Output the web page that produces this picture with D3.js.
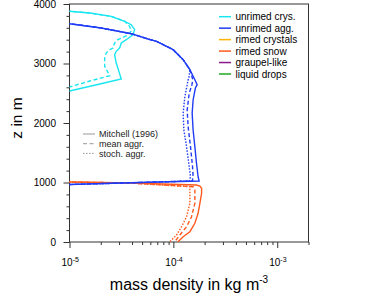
<!DOCTYPE html>
<html>
<head>
<meta charset="utf-8">
<script src="https://cdn.jsdelivr.net/npm/d3@7"></script>
<style>
    body { margin: 0; background: #fff; }
    text { font-family: "Liberation Sans", Arial, sans-serif; }
</style>
</head>
<body>
<svg id="chart" width="368" height="305"></svg>
<script>
// Profiles as [mass density in kg m^-3, z in m]
const crysMitchell = [
    [8.1e-6, 3891], [1.0e-5, 3877], [1.57e-5, 3849], [2.52e-5, 3793], [3.40e-5, 3709],
    [3.93e-5, 3652], [4.24e-5, 3568], [4.08e-5, 3484], [3.52e-5, 3400], [3.15e-5, 3345],
    [3.04e-5, 3261], [2.82e-5, 3205], [2.72e-5, 3148], [2.80e-5, 3025], [3.15e-5, 2740],
    [1.96e-5, 2655], [1.0e-5, 2538], [8.1e-6, 2504]
];
const crysMean = [
    [8.1e-6, 3891], [1.0e-5, 3877], [1.57e-5, 3849], [2.52e-5, 3793], [3.40e-5, 3709],
    [3.79e-5, 3625], [3.93e-5, 3546], [3.65e-5, 3479], [2.92e-5, 3400], [2.72e-5, 3345],
    [2.62e-5, 3261], [2.44e-5, 3232], [2.26e-5, 3176], [2.18e-5, 3092], [2.18e-5, 2953],
    [2.44e-5, 2795], [1.57e-5, 2706], [1.0e-5, 2605], [8.1e-6, 2571]
];
const aggTop = [
    [8.1e-6, 3698], [1.0e-5, 3669], [2.02e-5, 3597], [3.93e-5, 3501], [5.69e-5, 3412],
    [6.89e-5, 3373], [9.95e-5, 3232], [1.242e-4, 3064], [1.442e-4, 2896]
];
const aggBottom = [[3.82e-5, 995], [1.0e-5, 966], [8.1e-6, 965]];
const aggMitchell = aggTop.concat([
    [1.61e-4, 2728], [1.694e-4, 2644], [1.63e-4, 2588], [1.549e-4, 2387], [1.517e-4, 2163],
    [1.549e-4, 1882], [1.61e-4, 1602], [1.67e-4, 1323], [1.73e-4, 1097], [1.77e-4, 1025]
], aggBottom);
const aggMean = aggTop.concat([
    [1.54e-4, 2728], [1.506e-4, 2639], [1.42e-4, 2499], [1.358e-4, 2218], [1.387e-4, 1938],
    [1.462e-4, 1602], [1.53e-4, 1266], [1.549e-4, 1097], [1.523e-4, 1025]
], aggBottom);
const aggStoch = aggTop.concat([
    [1.41e-4, 2756], [1.387e-4, 2723], [1.29e-4, 2442], [1.242e-4, 2163], [1.262e-4, 1882],
    [1.34e-4, 1602], [1.42e-4, 1266], [1.462e-4, 1097], [1.425e-4, 1025]
], aggBottom);
const snowTop = [[8.1e-6, 1012], [1.0e-5, 1008], [3.82e-5, 992]];
const snowMitchell = snowTop.concat([
    [1.67e-4, 958], [1.80e-4, 941], [1.87e-4, 903], [1.87e-4, 819], [1.80e-4, 650],
    [1.73e-4, 482], [1.61e-4, 314], [1.442e-4, 173], [1.242e-4, 89], [1.11e-4, 5], [1.08e-4, -50]
]);
const snowMean = snowTop.concat([
    [1.549e-4, 929], [1.61e-4, 874], [1.61e-4, 650], [1.496e-4, 425], [1.34e-4, 257],
    [1.155e-4, 118], [1.033e-4, 5], [1.0e-4, -50]
]);
const snowStoch = snowTop.concat([
    [1.442e-4, 929], [1.442e-4, 650], [1.34e-4, 425], [1.20e-4, 257],
    [1.074e-4, 118], [9.4e-5, 17], [9.05e-5, -50]
]);

const speciesNames = ['unrimed crys.', 'unrimed agg.', 'rimed crystals', 'rimed snow', 'graupel-like', 'liquid drops'];
const schemeNames = ['Mitchell (1996)', 'mean aggr.', 'stoch. aggr.'];
const yTicks = [0, 1000, 2000, 3000, 4000];
const xDecades = [1e-5, 1e-4, 1e-3];

(function() {
    const colors = ['#19e6f0', '#1f3cf5', '#ffb400', '#ff5a1e', '#8c198c', '#1eaa1e'];
    const dashes = [null, '4,2.5', '1.5,1.5'];

    const svg = d3.select('#chart');
    const pLeft = 69.5, pRight = 308.5, pTop = 4, pBottom = 242;

    const x = d3.scaleLog().domain([1e-5, 2e-3]).range([pLeft, pRight]);
    const y = d3.scaleLinear().domain([0, 4000]).range([pBottom, pTop]);

    svg.append('clipPath').attr('id', 'plot-clip')
        .append('rect').attr('x', pLeft).attr('y', pTop)
        .attr('width', pRight - pLeft).attr('height', pBottom - pTop);

    // Minor ticks
    let xMinor = [];
    xDecades.forEach(d => { for (let k = 2; k <= 9; k++) if (d * k <= 2e-3) xMinor.push(d * k); });
    let yMinor = d3.range(0, 4001, 200).filter(v => v % 1000 !== 0);

    const xAxis = svg.append('g').attr('transform', `translate(0,${pBottom})`);
    xAxis.call(d3.axisBottom(x).tickValues(xMinor).tickSize(3).tickFormat(''));
    xAxis.append('g').call(d3.axisBottom(x).tickValues(xDecades).tickSize(6).tickFormat(''));
    xAxis.selectAll('.domain').remove();

    const yAxis = svg.append('g').attr('transform', `translate(${pLeft},0)`);
    yAxis.call(d3.axisLeft(y).tickValues(yMinor).tickSize(3).tickFormat(''));
    yAxis.append('g').call(d3.axisLeft(y).tickValues(yTicks).tickSize(6).tickFormat(''));
    yAxis.selectAll('.domain').remove();
    svg.selectAll('.tick line').attr('stroke', '#333');

    // Tick labels
    yTicks.forEach(v => {
        svg.append('text').attr('x', 56).attr('y', y(v) + 3.6)
            .attr('text-anchor', 'end').attr('font-size', 10).text(v);
    });
    xDecades.forEach(v => {
        const t = svg.append('text').attr('x', x(v) - 8).attr('y', 266).attr('font-size', 10);
        t.append('tspan').text('10');
        t.append('tspan').attr('dy', -4).attr('font-size', 7).text(Math.round(Math.log10(v)));
    });

    // Frame
    svg.append('rect').attr('x', pLeft).attr('y', pTop)
        .attr('width', pRight - pLeft).attr('height', pBottom - pTop)
        .attr('fill', 'none').attr('stroke', '#333').attr('stroke-width', 1);

    // Axis titles
    const xt = svg.append('text').attr('x', (pLeft + pRight) / 2).attr('y', 290)
        .attr('text-anchor', 'middle').attr('font-size', 16);
    xt.append('tspan').text('mass density in kg m');
    xt.append('tspan').attr('dy', -7).attr('font-size', 10).text('-3');

    svg.append('text').attr('transform', 'translate(21.5,118) rotate(-90)')
        .attr('text-anchor', 'middle').attr('font-size', 15.5).text('z in m');

    // Profiles
    const line = d3.line().x(d => x(d[0])).y(d => y(d[1]));
    const plot = svg.append('g').attr('clip-path', 'url(#plot-clip)');
    const profiles = [
        [crysMitchell, 0, 0], [crysMean, 0, 1],
        [snowStoch, 3, 2], [snowMean, 3, 1], [snowMitchell, 3, 0],
        [aggStoch, 1, 2], [aggMean, 1, 1], [aggMitchell, 1, 0]
    ];
    profiles.forEach(p => {
        plot.append('path').datum(p[0]).attr('d', line)
            .attr('fill', 'none').attr('stroke', colors[p[1]])
            .attr('stroke-width', 1.4).attr('stroke-dasharray', dashes[p[2]]);
    });

    // Species legend
    speciesNames.forEach((name, i) => {
        const yy = 16.7 + i * 11.46;
        svg.append('line').attr('x1', 219).attr('x2', 231).attr('y1', yy).attr('y2', yy)
            .attr('stroke', colors[i]).attr('stroke-width', 1.5);
        svg.append('text').attr('x', 235.5).attr('y', yy + 3.5).attr('font-size', 10).text(name);
    });

    // Scheme legend
    schemeNames.forEach((name, i) => {
        const yy = 134 + i * 9.7;
        svg.append('line').attr('x1', 83).attr('x2', 95).attr('y1', yy).attr('y2', yy)
            .attr('stroke', '#999').attr('stroke-width', 1).attr('stroke-dasharray', dashes[i]);
        svg.append('text').attr('x', 99).attr('y', yy + 3.2).attr('font-size', 9)
            .attr('fill', '#222').text(name);
    });
})();
</script>
</body>
</html>
